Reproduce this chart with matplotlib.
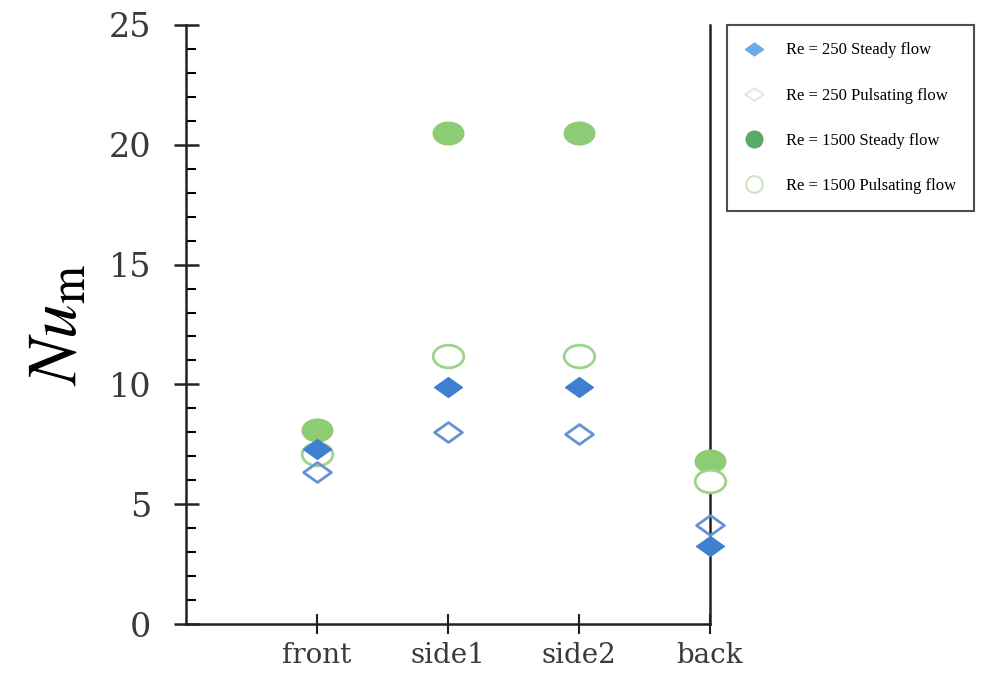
import matplotlib.pyplot as plt
from matplotlib.path import Path
from matplotlib.transforms import Affine2D
from matplotlib.ticker import MultipleLocator
from matplotlib.lines import Line2D

plt.rcParams['font.family'] = ['Liberation Serif', 'DejaVu Serif']
plt.rcParams['mathtext.fontset'] = 'stix'

# data
locations = ["front", "side1", "side2", "back"]
re250_steady = [7.3, 9.9, 9.9, 3.25]
re250_pulsating = [6.35, 8.0, 7.95, 4.15]
re1500_steady = [8.1, 20.5, 20.5, 6.8]
re1500_pulsating = [7.1, 11.2, 11.2, 5.95]
series_labels = ["Re = 250 Steady flow", "Re = 250 Pulsating flow",
                 "Re = 1500 Steady flow", "Re = 1500 Pulsating flow"]

xpos = [1, 2, 3, 4]

# wide markers, like the scanned figure
ellipse = Path.unit_circle().transformed(Affine2D().scale(1.35, 1.0))
diamond = Path([(0, 1), (1.4, 0), (0, -1), (-1.4, 0), (0, 1)],
               [Path.MOVETO, Path.LINETO, Path.LINETO, Path.LINETO, Path.CLOSEPOLY])

fig = plt.figure(figsize=(9.81, 6.73), dpi=100)
ax = fig.add_axes([0.1896, 0.0728, 0.5342, 0.8901])

ax.plot(xpos, re1500_steady, ls='none', marker=ellipse, ms=22,
        mfc='#8dcb75', mec='#8dcb75', zorder=3, clip_on=False)
ax.plot(xpos, re1500_pulsating, ls='none', marker=ellipse, ms=22,
        mfc='white', mec='#9fd38c', mew=2, zorder=3, clip_on=False)
ax.plot(xpos, re250_steady, ls='none', marker=diamond, ms=20,
        mfc='#3f7fd0', mec='#3f7fd0', zorder=4, clip_on=False)
ax.plot(xpos, re250_pulsating, ls='none', marker=diamond, ms=20,
        mfc='none', mec='#6593d2', mew=2, zorder=4, clip_on=False)

ax.set_xlim(0, 4)
ax.set_ylim(0, 25)
ax.set_xticks(xpos)
ax.set_xticklabels(locations, fontfamily='DejaVu Serif')
ax.yaxis.set_major_locator(MultipleLocator(5))
ax.yaxis.set_minor_locator(MultipleLocator(1))
for t in ax.get_yticklabels():
    t.set_fontfamily('DejaVu Serif')

ax.spines['top'].set_visible(False)
for s in ['left', 'right', 'bottom']:
    ax.spines[s].set_linewidth(1.8)
    ax.spines[s].set_color('#222222')
ax.spines['right'].set_zorder(2)

ax.tick_params(axis='y', which='major', direction='inout', length=18, width=1.8,
               labelsize=24, pad=16, colors='#222222', labelcolor='#3a3a3a')
ax.tick_params(axis='y', which='minor', direction='in', length=7, width=1.5)
ax.tick_params(axis='x', direction='inout', length=14, width=1.5,
               labelsize=20, pad=6, colors='#222222', labelcolor='#3a3a3a')
ax.tick_params(right=False)

ax.set_ylabel(r'$\mathit{Nu}_{\mathrm{m}}$', fontsize=50, labelpad=12)

# legend with the pale scanned-look markers
handles = [
    Line2D([], [], ls='none', marker=diamond, ms=13, mfc='#6fa8e6', mec='#6fa8e6'),
    Line2D([], [], ls='none', marker=diamond, ms=13, mfc='none', mec='#e6e6e6', mew=1.5),
    Line2D([], [], ls='none', marker='o', ms=12, mfc='#5aaa6a', mec='#5aaa6a'),
    Line2D([], [], ls='none', marker='o', ms=12, mfc='none', mec='#cfe3c8', mew=1.5),
]
leg = fig.legend(handles, series_labels,
                 loc='upper left', bbox_to_anchor=(0.741, 0.963),
                 borderaxespad=0, fontsize=12, labelspacing=1.75, borderpad=1.05,
                 handletextpad=1.3, handlelength=1.2, frameon=True,
                 fancybox=False, edgecolor='#222222')
leg.get_frame().set_linewidth(1.5)

fig.savefig('out.png', dpi=100)
